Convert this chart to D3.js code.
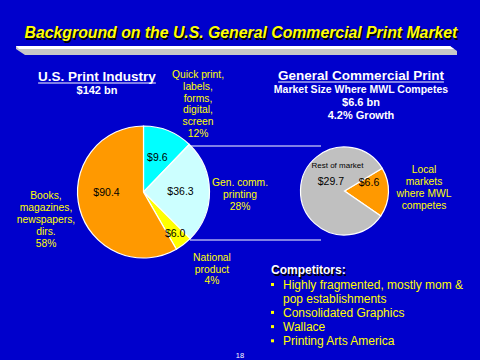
<!DOCTYPE html>
<html>
<head>
<meta charset="utf-8">
<style>
  body { margin: 0; background: #0000cc; }
  svg  { display: block; font-family: Arial, "Liberation Sans", sans-serif; }
</style>
</head>
<body>
<script src="https://cdn.jsdelivr.net/npm/d3@7"></script>
<script>

// ---- data
var titleText = "Background on the U.S. General Commercial Print Market";

var leftSegments = ["Quick print", "Gen. comm. printing", "National product", "Books, magazines"];
var leftValues   = [9.6, 36.3, 6.0, 90.4];          // $bn, as printed in the slices
var leftShares   = [12.2, 25.3, 4.2, 58.3];         // slice size as drawn (%)
var leftColors   = ["#00ffff", "#ccffff", "#ffff00", "#ff9900"];

var rightSegments = ["Local markets", "Rest of market"];
var rightValues   = [6.6, 29.7];
var rightColors   = ["#ff9900", "#c0c0c0"];

var quickLabel    = ["Quick print,", "labels,", "forms,", "digital,", "screen", "12%"];
var genLabel      = ["Gen. comm.", "printing", "28%"];
var nationalLabel = ["National", "product", "4%"];
var booksLabel    = ["Books,", "magazines,", "newspapers,", "dirs.", "58%"];
var localLabel    = ["Local", "markets", "where MWL", "competes"];

var leftHeading  = ["U.S. Print Industry", "$142 bn"];
var rightHeading = ["General Commercial Print", "Market Size Where MWL Competes", "$6.6 bn", "4.2% Growth"];

var competitors = ["Highly fragmented, mostly mom &|pop establishments", "Consolidated Graphics", "Wallace", "Printing Arts America"];

var width = 480, height = 360;
var yellow = "#ffff00";

var svg = d3.select("body").append("svg")
    .attr("width", width)
    .attr("height", height);

svg.append("rect").attr("width", width).attr("height", height).attr("fill", "#0000cc");

// title with shadow
function shadowText(g, x, y, txt, size, fill, italic, anchor) {
  [1, 0].forEach(function(o) {
    g.append("text")
      .attr("x", x + o * 1.5).attr("y", y + o * 1.5)
      .attr("text-anchor", anchor || "start")
      .attr("font-size", size)
      .attr("font-weight", "bold")
      .attr("font-style", italic ? "italic" : "normal")
      .attr("fill", o ? "#000" : fill)
      .text(txt);
  });
}
shadowText(svg, 241, 38, titleText, 15.8, yellow, true, "middle");

// the 3d bar under the title
svg.append("path")
    .attr("d", "M16,46 L450,46 L457,51 L457,55 L25,55 L16,49 Z")
    .attr("fill", "#c8c8c8");
svg.append("path")
    .attr("d", "M16,46 L450,46 L454,49 L19,49 Z")
    .attr("fill", "#ffffff");

// ---- headings
function heading(lines, cx, ys, sizes) {
  lines.forEach(function(t, i) {
    var txt = svg.append("text")
      .attr("x", cx).attr("y", ys[i])
      .attr("text-anchor", "middle")
      .attr("font-size", sizes[i])
      .attr("font-weight", "bold")
      .attr("fill", "#fff")
      .text(t);
    if (i == 0) {
      var w = txt.node().getComputedTextLength();
      svg.append("line")
        .attr("x1", cx - w / 2).attr("x2", cx + w / 2)
        .attr("y1", ys[i] + 2).attr("y2", ys[i] + 2)
        .attr("stroke", "#fff").attr("stroke-width", 1);
    }
  });
}
heading(leftHeading, 97, [81, 94], [13.5, 11]);
heading(rightHeading, 361, [80, 93, 106, 119], [13.5, 10.5, 11, 11]);

// ---- yellow multi-line labels
function block(lines, cx, y0, step, size, fill) {
  svg.append("text")
    .attr("text-anchor", "middle")
    .attr("font-size", size)
    .attr("fill", fill || yellow)
    .selectAll("tspan")
    .data(lines)
    .enter().append("tspan")
    .attr("x", cx)
    .attr("y", function(d, i) { return y0 + i * step; })
    .text(function(d) { return d; });
}
block(quickLabel, 198, 78, 11.8, 10.3);
block(genLabel, 240, 186, 12, 10.3);
block(nationalLabel, 212, 261, 11.5, 10.3);
block(booksLabel, 46, 199, 12, 10.3);
block(localLabel, 424, 173, 12, 10.3);

// ---- connector lines between the pies
[146, 240].forEach(function(y) {
  svg.append("line")
    .attr("x1", 190).attr("x2", 321)
    .attr("y1", y).attr("y2", y)
    .attr("stroke", "#fff").attr("stroke-width", 1);
});

// ---- left pie
var leftR = 66;
var leftPie = d3.pie().sort(null).value(function(d) { return d; });
var leftArcs = leftPie(leftShares);
var arcL = d3.arc().innerRadius(0).outerRadius(leftR);

var gL = svg.append("g").attr("transform", "translate(143.5,192)");
gL.selectAll("path")
  .data(leftArcs)
  .enter().append("path")
  .attr("d", arcL)
  .attr("fill", function(d, i) { return leftColors[i]; })
  .attr("stroke", "#fff")
  .attr("stroke-width", 1.2);

gL.selectAll("text.val")
  .data(leftArcs)
  .enter().append("text")
  .attr("class", "val")
  .attr("transform", function(d) {
    var a = (d.startAngle + d.endAngle) / 2;
    var r = (d.endAngle - d.startAngle) < 0.4 ? 52 : 37;
    if (d.endAngle - d.startAngle > Math.PI) a = 1.5 * Math.PI;
    return "translate(" + (r * Math.sin(a)) + "," + (-r * Math.cos(a)) + ")";
  })
  .attr("dy", "0.35em")
  .attr("text-anchor", "middle")
  .attr("font-size", 10.5)
  .attr("fill", "#000")
  .text(function(d, i) { return "$" + d3.format(".1f")(leftValues[i]); });

// ---- right pie
var rightR = 44;
var rightPie = d3.pie().sort(null).value(function(d) { return d; })
    .startAngle(59 * Math.PI / 180)
    .endAngle(59 * Math.PI / 180 + 2 * Math.PI);
var rightArcs = rightPie(rightValues);
var arcR = d3.arc().innerRadius(0).outerRadius(rightR);

var gR = svg.append("g").attr("transform", "translate(344.5,191)");
gR.selectAll("path")
  .data(rightArcs)
  .enter().append("path")
  .attr("d", arcR)
  .attr("fill", function(d, i) { return rightColors[i]; })
  .attr("stroke", "#fff")
  .attr("stroke-width", 1.2);

gR.selectAll("text.val")
  .data(rightArcs)
  .enter().append("text")
  .attr("class", "val")
  .attr("transform", function(d, i) {
    var a = i == 0 ? (d.startAngle + 0.2) : 5.35;
    var r = i == 0 ? 26 : 17;
    return "translate(" + (r * Math.sin(a)) + "," + (-r * Math.cos(a)) + ")";
  })
  .attr("dy", "0.35em")
  .attr("text-anchor", "middle")
  .attr("font-size", 10.5)
  .attr("fill", "#000")
  .text(function(d, i) { return "$" + d3.format(".1f")(rightValues[i]); });

gR.append("text")
  .attr("x", -7).attr("y", -23)
  .attr("text-anchor", "middle")
  .attr("font-size", 8)
  .attr("fill", "#000")
  .text(rightSegments[1]);

// ---- competitors
shadowText(svg, 271, 274, "Competitors:", 12, "#fff", false, "start");
var y = 289;
competitors.forEach(function(c) {
  var parts = c.split("|");
  svg.append("rect")
    .attr("x", 271).attr("y", y - 6)
    .attr("width", 3).attr("height", 3)
    .attr("fill", yellow);
  parts.forEach(function(p, j) {
    svg.append("text")
      .attr("x", 283).attr("y", y + j * 13.7)
      .attr("font-size", 12)
      .attr("fill", yellow)
      .text(p);
  });
  y += parts.length * 13.7 + 0.5;
});

// page number
svg.append("text")
  .attr("x", 240).attr("y", 358)
  .attr("text-anchor", "middle")
  .attr("font-size", 7.5)
  .attr("fill", "#fff")
  .text("18");

</script>
</body>
</html>
